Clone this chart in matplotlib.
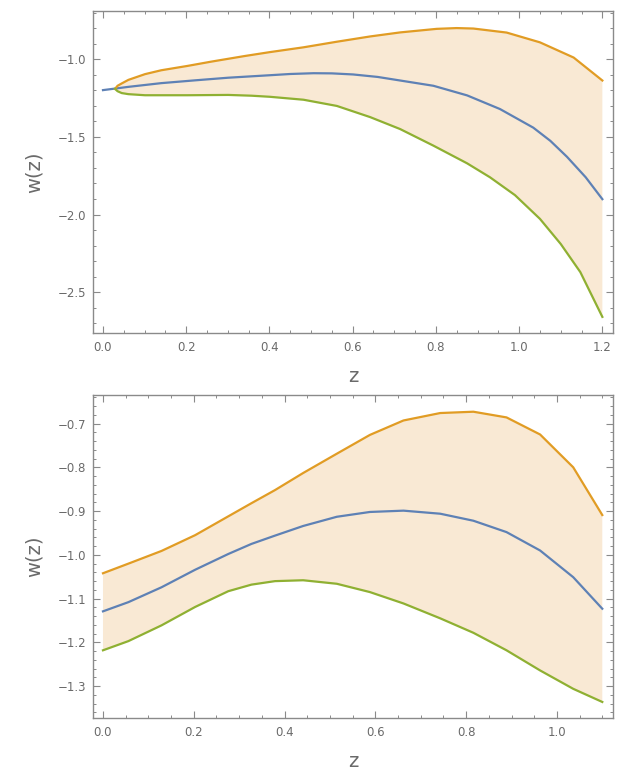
import numpy as np
import matplotlib.pyplot as plt
from matplotlib.ticker import MultipleLocator

plt.rcParams['font.family'] = ['DejaVu Sans']
plt.rcParams['axes.unicode_minus'] = True

# 上图数据 (z, w) 读取自原图
z1_mid = [0.0, 0.061, 0.14, 0.221, 0.301, 0.401, 0.45, 0.506, 0.55, 0.601, 0.66, 0.714, 0.794, 0.875,
          0.954, 1.034, 1.075, 1.115, 1.16, 1.2]
w1_mid = [-1.198, -1.177, -1.153, -1.135, -1.118, -1.102, -1.094, -1.089, -1.09, -1.097, -1.113, -1.136,
          -1.17, -1.232, -1.32, -1.44, -1.525, -1.628, -1.76, -1.901]

z1_up = [0.029, 0.035, 0.045, 0.061, 0.101, 0.14, 0.203, 0.261, 0.341, 0.401, 0.482, 0.562, 0.642,
         0.714, 0.802, 0.85, 0.89, 0.97, 1.05, 1.131, 1.2]
w1_up = [-1.19, -1.17, -1.155, -1.132, -1.095, -1.07, -1.042, -1.014, -0.978, -0.953, -0.922, -0.886, -0.852,
         -0.826, -0.803, -0.798, -0.801, -0.827, -0.89, -0.988, -1.136]

z1_lo = [0.029, 0.035, 0.045, 0.061, 0.101, 0.203, 0.301, 0.357, 0.401, 0.482, 0.562, 0.642, 0.714,
         0.794, 0.875, 0.93, 0.99, 1.05, 1.1, 1.147, 1.2]
w1_lo = [-1.19, -1.205, -1.217, -1.224, -1.231, -1.231, -1.229, -1.234, -1.241, -1.26, -1.3, -1.372, -1.449,
         -1.556, -1.67, -1.76, -1.875, -2.028, -2.19, -2.371, -2.66]

# 下图数据
z2 = [0.0, 0.056, 0.129, 0.203, 0.276, 0.327, 0.379, 0.441, 0.515, 0.588, 0.662, 0.743, 0.816, 0.889, 0.963, 1.036, 1.1]
w2_up = [-1.042, -1.02, -0.991, -0.955, -0.912, -0.882, -0.852, -0.813, -0.769, -0.726, -0.693, -0.676, -0.673,
         -0.686, -0.725, -0.8, -0.909]
w2_mid = [-1.129, -1.108, -1.074, -1.034, -0.998, -0.975, -0.956, -0.934, -0.913, -0.902, -0.899, -0.906, -0.922,
          -0.948, -0.99, -1.051, -1.123]
w2_lo = [-1.218, -1.197, -1.161, -1.119, -1.083, -1.068, -1.06, -1.058, -1.066, -1.085, -1.111, -1.145, -1.178,
         -1.218, -1.264, -1.306, -1.336]

BLUE = '#5E81B5'
ORANGE = '#E19C24'
GREEN = '#8FB032'
FILL = '#F9E9D4'
GRAY = '#8a8a8a'
TXT = '#6a6a6a'


def style_axes(ax, xmaj, xmin, ymaj, ymin):
    for s in ax.spines.values():
        s.set_color(GRAY)
        s.set_linewidth(1.0)
    ax.xaxis.set_major_locator(MultipleLocator(xmaj))
    ax.xaxis.set_minor_locator(MultipleLocator(xmin))
    ax.yaxis.set_major_locator(MultipleLocator(ymaj))
    ax.yaxis.set_minor_locator(MultipleLocator(ymin))
    ax.tick_params(which='both', direction='in', top=True, right=True, color=GRAY,
                   labelcolor=TXT, labelsize=8.5)
    ax.tick_params(which='major', length=5, width=0.8)
    ax.tick_params(which='minor', length=2.5, width=0.7)
    ax.tick_params(axis='x', pad=6)
    ax.tick_params(axis='y', pad=5)
    ax.set_xlabel('z', color=TXT, fontsize=14, labelpad=9)
    ax.set_ylabel('w(z)', color=TXT, fontsize=14, labelpad=10)


def band(ax, z_up, w_up, z_lo, w_lo):
    # 上下边界围成的多边形
    zs = list(z_up) + list(z_lo)[::-1]
    ws = list(w_up) + list(w_lo)[::-1]
    ax.fill(zs, ws, color=FILL, lw=0)


fig = plt.figure(figsize=(6.2, 7.7), dpi=100)

ax1 = fig.add_axes([0.15, 0.5675, 0.839, 0.4186])
band(ax1, z1_up, w1_up, z1_lo, w1_lo)
ax1.plot(z1_mid, w1_mid, color=BLUE, lw=1.6)
ax1.plot(z1_up, w1_up, color=ORANGE, lw=1.6)
ax1.plot(z1_lo, w1_lo, color=GREEN, lw=1.6)
ax1.set_xlim(-0.024, 1.226)
ax1.set_ylim(-2.764, -0.686)
style_axes(ax1, 0.2, 0.05, 0.5, 0.1)

ax2 = fig.add_axes([0.15, 0.0679, 0.839, 0.419])
band(ax2, z2, w2_up, z2, w2_lo)
ax2.plot(z2, w2_mid, color=BLUE, lw=1.6)
ax2.plot(z2, w2_up, color=ORANGE, lw=1.6)
ax2.plot(z2, w2_lo, color=GREEN, lw=1.6)
ax2.set_xlim(-0.022, 1.124)
ax2.set_ylim(-1.372, -0.635)
style_axes(ax2, 0.2, 0.05, 0.1, 0.02)

fig.savefig('out.png', dpi=100)
